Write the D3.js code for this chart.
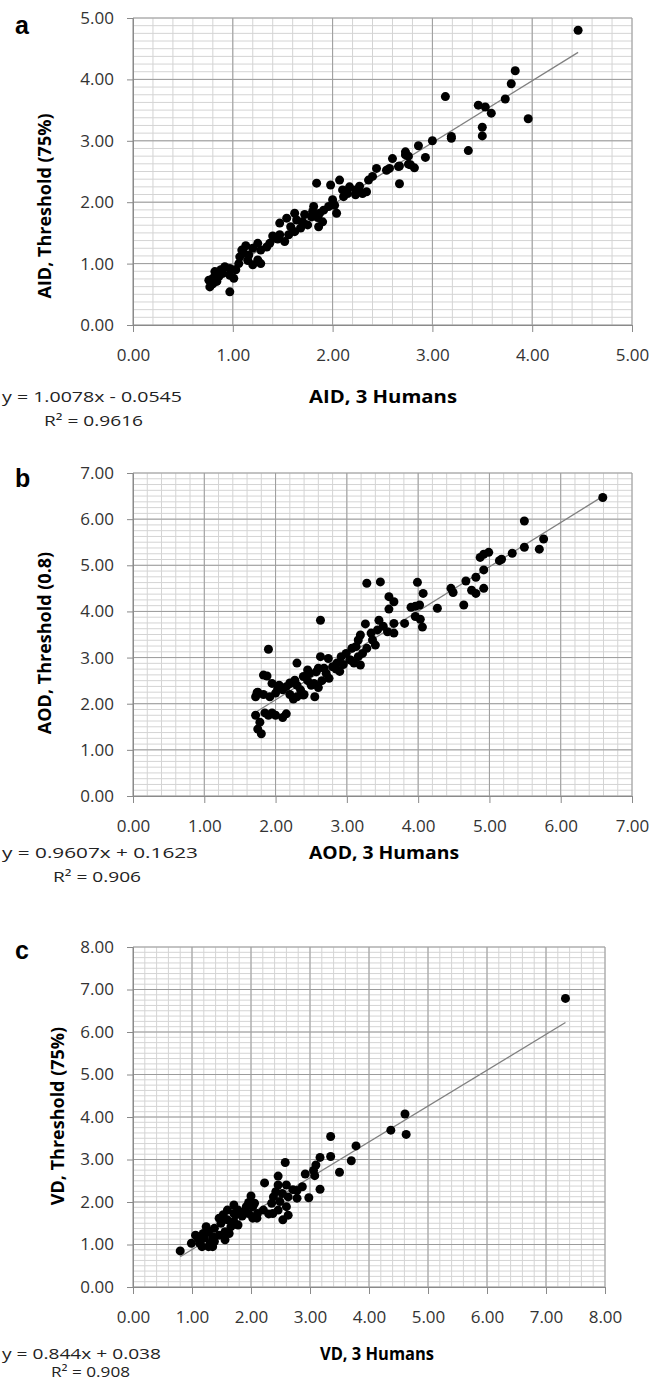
<!DOCTYPE html>
<html>
<head>
<meta charset="utf-8">
<script src="https://cdn.jsdelivr.net/npm/d3@7.9.0/dist/d3.min.js"></script>
<style>
  body { margin: 0; background: #fff; }
  svg { display: block; }
  text { font-family: 'Open Sans', sans-serif; }
</style>
</head>
<body>
<svg id="chart" width="661" height="1382"></svg>
<script>
// panel a: AID, 3 humans vs threshold (75%)
const aidHumans = [4.46,3.13,3.83,3.79,3.73,3.46,3.53,3.59,3.96,3.50,3.50,3.19,3.19,3.00,3.36,2.86,2.93,2.73,2.73,2.76,2.60,2.76,2.67,2.82,2.57,2.44,
  2.67,2.66,2.78,2.54,2.40,2.36,2.27,2.23,2.17,2.15,2.23,2.30,2.34,2.11,2.07,1.98,1.84,2.00,2.02,1.96,2.04,1.91,1.87,1.81,1.79,1.86,1.70,1.75,
  1.62,1.64,1.58,1.54,1.47,1.62,1.52,1.47,1.43,1.56,1.37,1.34,1.25,1.28,1.20,1.13,1.09,1.16,1.07,1.25,1.20,1.28,1.11,1.06,1.03,0.97,0.92,0.97,
  1.01,0.97,0.90,0.86,0.82,0.80,0.84,0.77,0.80,0.76,1.72,1.85,1.90,1.45,1.68,1.80,2.10,1.40,1.15,0.88];
const aidThreshold = [4.80,3.72,4.14,3.93,3.68,3.58,3.55,3.45,3.36,3.22,3.08,3.07,3.04,3.00,2.84,2.92,2.73,2.82,2.77,2.75,2.71,2.62,2.59,2.56,2.55,2.55,
  2.30,2.58,2.61,2.52,2.42,2.36,2.26,2.20,2.25,2.14,2.12,2.14,2.17,2.09,2.36,2.28,2.31,2.04,1.95,1.93,1.82,1.87,1.82,1.93,1.76,1.60,1.68,1.63,
  1.82,1.71,1.60,1.74,1.66,1.52,1.36,1.47,1.41,1.47,1.33,1.27,1.33,1.22,1.25,1.29,1.22,1.14,1.11,1.06,0.98,1.00,1.17,1.00,0.90,0.92,0.95,0.81,
  0.76,0.54,0.84,0.79,0.87,0.76,0.71,0.62,0.67,0.73,1.80,1.75,1.68,1.40,1.58,1.85,2.20,1.45,1.05,0.90];

// panel b: AOD, 3 humans vs threshold (0.8)
const aodHumans = [6.59,5.49,5.76,5.70,5.49,5.32,5.17,5.14,4.99,4.92,4.87,4.92,4.92,4.81,4.67,4.75,4.81,4.46,4.49,4.64,4.27,3.99,4.07,3.90,3.96,
  4.02,3.96,4.03,4.06,3.81,3.66,3.59,3.66,3.59,3.47,3.28,3.26,3.45,3.51,3.57,3.66,3.43,3.34,3.19,3.16,3.36,3.40,3.28,3.22,3.13,3.07,2.99,2.92,
  3.16,3.04,3.10,3.19,2.86,2.80,2.74,2.63,2.63,2.68,2.71,2.60,2.57,2.48,2.45,2.39,2.30,2.27,2.21,2.15,2.03,1.95,2.00,1.90,1.83,1.74,1.92,2.39,
  2.54,1.72,1.75,1.80,1.78,1.85,1.90,1.95,1.88,1.83,1.75,1.72,2.00,2.10,2.15,2.05,2.10,2.20,2.25,2.30,2.35,2.40,2.45,2.50,2.55,2.60,2.65,2.20,
  2.30,2.85,2.95,3.05,2.75,2.90];
const aodThreshold = [6.47,5.96,5.57,5.35,5.39,5.26,5.13,5.10,5.28,5.24,5.17,4.90,4.50,4.74,4.66,4.46,4.39,4.50,4.41,4.14,4.07,4.63,4.39,4.09,4.11,
  4.14,3.89,3.83,3.66,3.74,3.74,4.32,4.21,4.05,4.64,4.61,3.73,3.81,3.68,3.56,3.53,3.60,3.53,3.49,3.38,3.38,3.27,3.20,3.09,3.24,3.20,3.09,3.02,
  3.02,2.95,2.88,2.84,2.88,2.80,2.98,3.02,3.81,2.77,2.66,2.77,2.69,2.66,2.73,2.59,2.88,2.51,2.44,2.37,2.33,2.44,2.23,3.18,2.62,2.24,2.15,2.19,
  2.44,1.75,1.45,1.35,1.60,1.80,1.75,1.80,2.60,2.20,2.25,2.15,1.75,1.70,1.78,2.40,2.30,2.20,2.10,2.40,2.30,2.20,2.50,2.40,2.15,2.35,2.50,2.45,
  2.15,2.75,2.85,2.95,2.55,2.70];

// panel c: VD, 3 humans vs threshold (75%)
const vdHumans = [7.33,4.61,4.63,4.37,3.78,3.70,3.50,3.35,3.35,3.17,3.17,3.10,3.06,3.08,2.92,2.98,2.87,2.78,2.78,2.71,2.58,2.60,2.46,2.46,2.42,
  2.53,2.63,2.38,2.49,2.60,2.63,2.54,2.46,2.35,2.37,2.30,2.23,2.21,2.11,2.10,2.03,2.00,1.96,2.06,1.92,1.96,2.03,1.88,1.85,1.78,1.74,1.71,1.71,
  1.66,1.78,1.60,1.53,1.46,1.49,1.38,1.56,1.63,1.46,1.56,1.35,1.28,1.24,1.38,1.31,1.21,1.28,1.17,1.13,1.10,1.06,1.19,0.99,0.80,1.35,1.60,1.71];
const vdThreshold = [6.79,4.07,3.59,3.69,3.32,2.97,2.70,3.54,3.07,3.05,2.30,2.87,2.74,2.62,2.66,2.10,2.36,2.27,2.09,2.29,2.93,2.40,2.61,2.40,2.24,
  2.20,2.12,2.12,2.01,1.89,1.69,1.58,1.81,1.97,1.73,1.72,2.45,1.81,1.73,1.62,1.89,2.14,1.99,1.97,1.89,1.73,1.62,1.77,1.67,1.81,1.70,1.93,1.54,
  1.42,1.46,1.58,1.70,1.62,1.50,1.38,1.30,1.26,1.22,1.11,1.18,1.30,1.42,1.07,1.03,1.15,0.95,0.95,1.03,1.15,1.22,1.26,1.03,0.85,0.95,1.81,1.73];

const panels = [
  { letter: 'a', xs: aidHumans, ys: aidThreshold, max: 5, slope: 1.0078, icpt: -0.0545,
    eq: 'y = 1.0078x - 0.0545', r2: 'R² = 0.9616', xTitle: 'AID, 3 Humans', yTitle: 'AID, Threshold (75%)',
    left: 133, right: 632, top: 18, bottom: 325, titleX: 45, titleY: 206,
    eqY: 397, r2Y: 421, r2X: 44, eqW: 180, r2W: 99, xtX: 309, xtW: 148, letterY: 25 },
  { letter: 'b', xs: aodHumans, ys: aodThreshold, max: 7, slope: 0.9607, icpt: 0.1623,
    eq: 'y = 0.9607x + 0.1623', r2: 'R² = 0.906', xTitle: 'AOD, 3 Humans', yTitle: 'AOD, Threshold (0.8)',
    left: 133, right: 632, top: 473, bottom: 796, titleX: 45, titleY: 643,
    eqY: 853, r2Y: 877, r2X: 53, eqW: 196, r2W: 88, xtX: 309, xtW: 150, letterY: 478 },
  { letter: 'c', xs: vdHumans, ys: vdThreshold, max: 8, slope: 0.844, icpt: 0.038,
    eq: 'y = 0.844x + 0.038', r2: 'R² = 0.908', xTitle: 'VD, 3 Humans', yTitle: 'VD, Threshold (75%)',
    left: 133, right: 605, top: 947, bottom: 1287, titleX: 58, titleY: 1116,
    eqY: 1354, r2Y: 1372, r2X: 51, eqW: 159, r2W: 79, xtX: 320, xtW: 114, letterY: 950 }
];

const svg = d3.select('#chart');
const fmt = d3.format('.2f');

panels.forEach((p) => {
  const x = d3.scaleLinear().domain([0, p.max]).range([p.left, p.right]);
  const y = d3.scaleLinear().domain([0, p.max]).range([p.bottom, p.top]);
  const g = svg.append('g');

  // minor grid
  const xMinor = d3.range(0, p.max * 5 + 1).map((i) => i / 5);
  const yMinor = d3.range(0, p.max * 8 + 1).map((i) => i / 8);
  g.selectAll('.vx').data(xMinor).join('line')
    .attr('x1', (d) => x(d)).attr('x2', (d) => x(d))
    .attr('y1', p.top).attr('y2', p.bottom)
    .attr('stroke', '#d4d4d4').attr('stroke-width', 1);
  g.selectAll('.hy').data(yMinor).join('line')
    .attr('x1', p.left).attr('x2', p.right)
    .attr('y1', (d) => y(d)).attr('y2', (d) => y(d))
    .attr('stroke', '#d4d4d4').attr('stroke-width', 1);

  // major grid
  const majors = d3.range(0, p.max + 1);
  g.selectAll('.mx').data(majors).join('line')
    .attr('x1', (d) => x(d)).attr('x2', (d) => x(d))
    .attr('y1', p.top).attr('y2', p.bottom)
    .attr('stroke', '#9c9c9c').attr('stroke-width', 1);
  g.selectAll('.my').data(majors).join('line')
    .attr('x1', p.left).attr('x2', p.right)
    .attr('y1', (d) => y(d)).attr('y2', (d) => y(d))
    .attr('stroke', '#9c9c9c').attr('stroke-width', 1);

  // axes
  const yAxis = g.append('g').attr('transform', `translate(${p.left},0)`)
    .call(d3.axisLeft(y).tickValues(majors).tickFormat(fmt).tickSize(6).tickPadding(13));
  const xAxis = g.append('g').attr('transform', `translate(0,${p.bottom})`)
    .call(d3.axisBottom(x).tickValues(majors).tickFormat(fmt).tickSize(7).tickPadding(17));
  [yAxis, xAxis].forEach((ax) => {
    ax.select('.domain').attr('stroke', '#8a8a8a');
    ax.selectAll('.tick line').attr('stroke', '#8a8a8a');
    ax.selectAll('.tick text').attr('fill', '#333').style('font-size', '17px')
      .style('font-family', "'Open Sans', sans-serif");
  });

  // trendline
  const x0 = d3.min(p.xs), x1 = d3.max(p.xs);
  g.append('line')
    .attr('x1', x(x0)).attr('y1', y(p.slope * x0 + p.icpt))
    .attr('x2', x(x1)).attr('y2', y(p.slope * x1 + p.icpt))
    .attr('stroke', '#808080').attr('stroke-width', 1.3);

  // points
  g.selectAll('circle').data(p.xs.map((v, i) => [v, p.ys[i]])).join('circle')
    .attr('cx', (d) => x(d[0])).attr('cy', (d) => y(d[1]))
    .attr('r', 4.5).attr('fill', '#000');

  // texts
  svg.append('text').attr('x', 15).attr('y', p.letterY).attr('dy', '0.36em')
    .style('font-family', "'Liberation Sans', Arial, sans-serif")
    .style('font-weight', 'bold').style('font-size', '25px').text(p.letter);

  svg.append('text')
    .attr('transform', `translate(${p.titleX},${p.titleY}) rotate(-90)`)
    .attr('text-anchor', 'middle').attr('dy', '0.36em')
    .style('font-weight', 'bold').style('font-size', '18px').text(p.yTitle);

  svg.append('text').attr('x', p.xtX).attr('y', p.eqY).attr('dy', '0.36em')
    .attr('textLength', p.xtW).attr('lengthAdjust', 'spacingAndGlyphs')
    .style('font-weight', 'bold').style('font-size', '18px').text(p.xTitle);

  svg.append('text').attr('x', 2).attr('y', p.eqY).attr('dy', '0.36em')
    .attr('textLength', p.eqW).attr('lengthAdjust', 'spacingAndGlyphs')
    .attr('fill', '#222').style('font-size', '15px').text(p.eq);

  svg.append('text').attr('x', p.r2X).attr('y', p.r2Y).attr('dy', '0.36em')
    .attr('textLength', p.r2W).attr('lengthAdjust', 'spacingAndGlyphs')
    .attr('fill', '#222').style('font-size', '15px').text(p.r2);
});
</script>
</body>
</html>
